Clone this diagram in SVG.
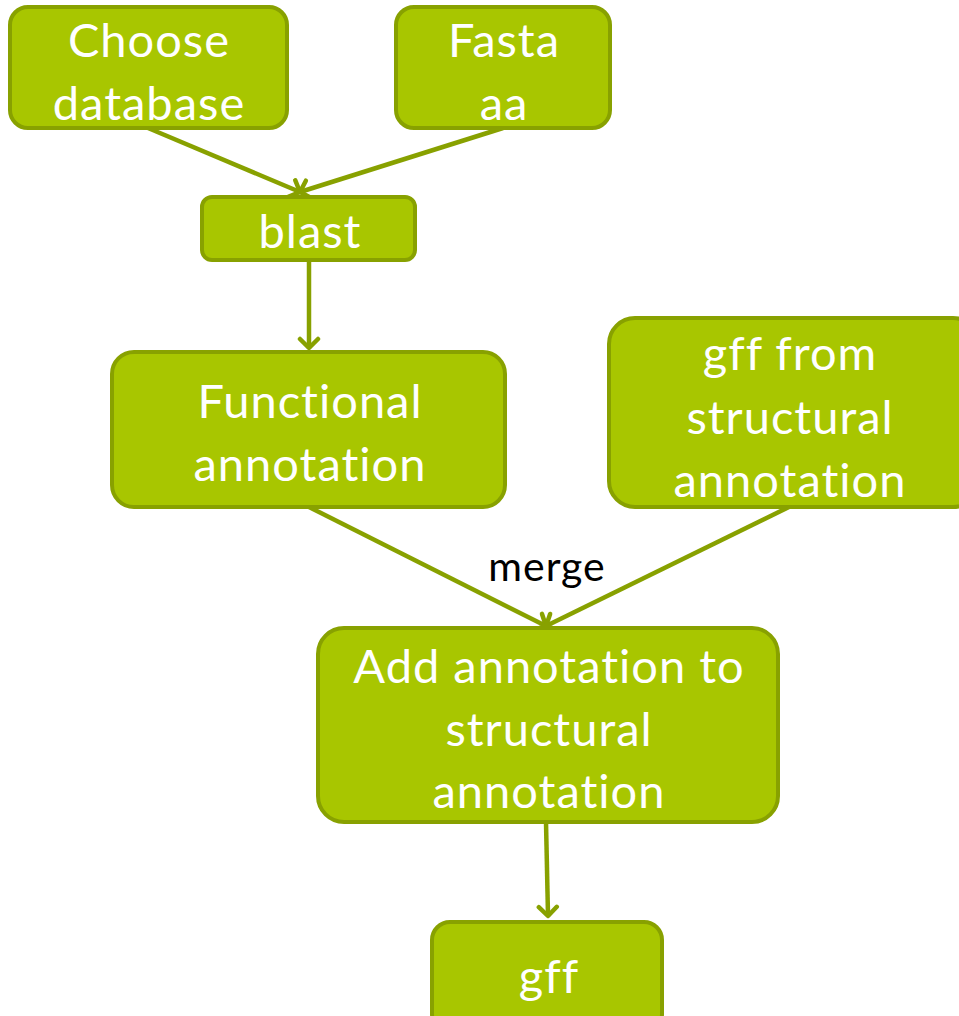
<svg xmlns="http://www.w3.org/2000/svg" width="959" height="1016" viewBox="0 0 959 1016">
  <defs>
    <marker id="chev" viewBox="0 0 24 24" refX="12" refY="12" markerWidth="24" markerHeight="24" markerUnits="userSpaceOnUse" orient="auto">
      <path d="M3,3 L12,12 L3,21" fill="none" stroke="#88a100" stroke-width="4.5" stroke-linecap="round" stroke-linejoin="round"/>
    </marker>
  </defs>
  <style>
    .box { fill: #a8c600; stroke: #88a100; stroke-width: 4; }
    .lbl { font-family: Lato, "Liberation Sans", sans-serif; font-size: 47px; letter-spacing: 1px; fill: #ffffff; text-anchor: middle; }
    .edge { fill: none; stroke: #88a100; stroke-width: 4.5; marker-end: url(#chev); }
    .note { font-family: Lato, "Liberation Sans", sans-serif; font-size: 41px; letter-spacing: 1px; fill: #000000; text-anchor: middle; }
  </style>

  <g id="connectors">
    <line class="edge" x1="148" y1="128" x2="300" y2="192"/>
    <line class="edge" x1="503" y1="128" x2="300" y2="192"/>
    <line class="edge" x1="309" y1="260" x2="309" y2="348"/>
    <line class="edge" x1="309" y1="507" x2="546" y2="626"/>
    <line class="edge" x1="789" y1="507" x2="546" y2="626"/>
    <line class="edge" x1="546" y1="822" x2="548" y2="916"/>
    <text class="note" x="547" y="581">merge</text>
  </g>

  <g id="choose-database">
    <rect class="box" x="10" y="7" width="277" height="121" rx="18"/>
    <text class="lbl" x="149" y="57">Choose</text>
    <text class="lbl" x="149" y="120">database</text>
  </g>

  <g id="fasta-aa">
    <rect class="box" x="396" y="7" width="214" height="121" rx="18"/>
    <text class="lbl" x="504" y="57">Fasta</text>
    <text class="lbl" x="504" y="120">aa</text>
  </g>

  <g id="blast">
    <rect class="box" x="202" y="197" width="213" height="63" rx="10"/>
    <text class="lbl" x="310" y="248">blast</text>
  </g>

  <g id="functional-annotation">
    <rect class="box" x="112" y="352" width="393" height="155" rx="22"/>
    <text class="lbl" x="310" y="418">Functional</text>
    <text class="lbl" x="310" y="481">annotation</text>
  </g>

  <g id="gff-structural">
    <rect class="box" x="609" y="318" width="370" height="189" rx="26"/>
    <text class="lbl" x="790" y="370">gff from</text>
    <text class="lbl" x="790" y="434">structural</text>
    <text class="lbl" x="790" y="497">annotation</text>
  </g>

  <g id="add-annotation">
    <rect class="box" x="318" y="628" width="460" height="194" rx="26"/>
    <text class="lbl" x="549" y="683">Add annotation to</text>
    <text class="lbl" x="549" y="746">structural</text>
    <text class="lbl" x="549" y="808">annotation</text>
  </g>

  <g id="gff">
    <rect class="box" x="432" y="922" width="230" height="110" rx="18"/>
    <text class="lbl" x="549" y="993">gff</text>
  </g>
</svg>
